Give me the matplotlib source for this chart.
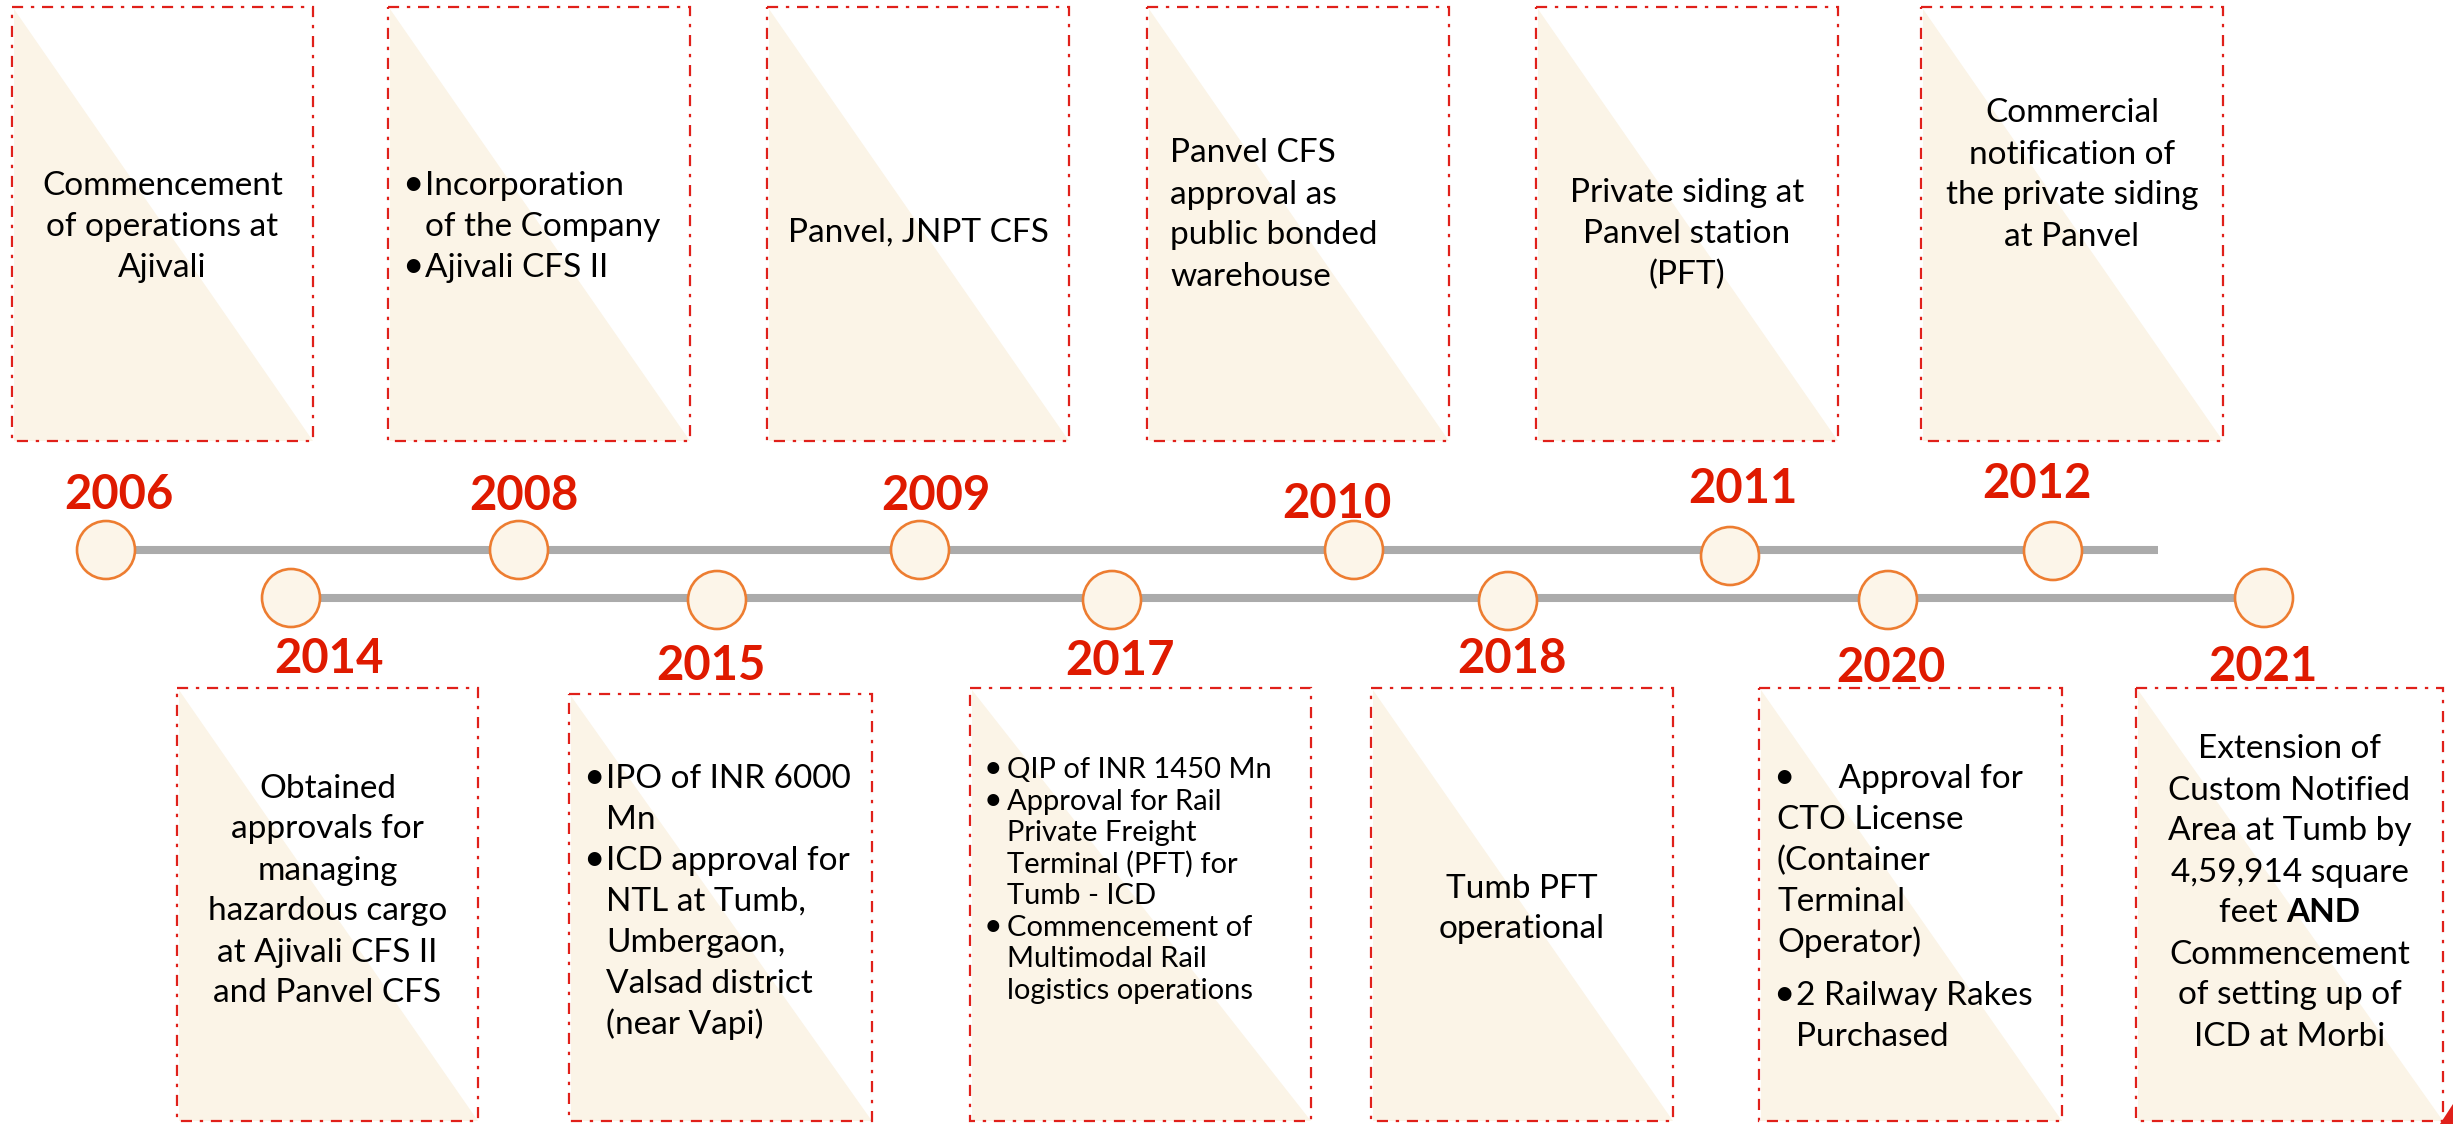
import matplotlib.pyplot as plt
from matplotlib.patches import Rectangle, Polygon, Ellipse

plt.rcParams['font.family'] = ['Lato', 'DejaVu Sans']

# milestones drawn on the upper line (boxes above)
top_years = ['2006', '2008', '2009', '2010', '2011', '2012']
top_texts = [
    ['Commencement', 'of operations at', 'Ajivali'],
    ['• Incorporation', '  of the Company', '• Ajivali CFS II'],
    ['Panvel, JNPT CFS'],
    ['Panvel CFS', 'approval as', 'public bonded', 'warehouse'],
    ['Private siding at', 'Panvel station', '(PFT)'],
    ['Commercial', 'notification of', 'the private siding', 'at Panvel'],
]

# milestones drawn on the lower line (boxes below)
bottom_years = ['2014', '2015', '2017', '2018', '2020', '2021']
bottom_texts = [
    ['Obtained', 'approvals for', 'managing', 'hazardous cargo',
     'at Ajivali CFS II', 'and Panvel CFS'],
    ['• IPO of INR 6000', '  Mn', '• ICD approval for', '  NTL at Tumb,',
     '  Umbergaon,', '  Valsad district', '  (near Vapi)'],
    ['• QIP of INR 1450 Mn', '• Approval for Rail', '  Private Freight',
     '  Terminal (PFT) for', '  Tumb - ICD', '• Commencement of',
     '  Multimodal Rail', '  logistics operations'],
    ['Tumb PFT', 'operational'],
    ['•      Approval for', 'CTO License', '(Container', 'Terminal',
     'Operator)', '• 2 Railway Rakes', '  Purchased'],
    ['Extension of', 'Custom Notified', 'Area at Tumb by', '4,59,914 square',
     'feet **AND**', 'Commencement', 'of setting up of', 'ICD at Morbi'],
]

# layout (pixels on a 2453 x 1124 canvas)
top_dot_x = [106, 519, 920, 1354, 1730, 2053]
top_dot_y = [550, 550, 550, 550, 556, 551]
top_lab_x = [119, 524, 936, 1337, 1743, 2037]
top_lab_base = [509, 510, 510, 518, 503, 498]
top_box_x = [(12, 313), (388, 690), (767, 1069), (1147, 1449), (1536, 1838), (1921, 2223)]
top_box_y = [(7, 441)] * 6
top_mode = ['center', 'bullet', 'center', 'left', 'center', 'center']
top_text_cy = [224, 224, 230, 212, 231, 172]
top_line_end = 2158

bot_dot_x = [291, 717, 1112, 1508, 1888, 2264]
bot_dot_y = [598, 600, 600, 601, 600, 598]
bot_lab_x = [329, 711, 1120, 1512, 1891, 2263]
bot_lab_base = [673, 680, 675, 673, 682, 681]
bot_box_x = [(177, 478), (569, 872), (970, 1311), (1371, 1673), (1759, 2062), (2136, 2443)]
bot_box_y = [(688, 1121), (694, 1121), (688, 1121), (688, 1121), (688, 1121), (688, 1121)]
bot_mode = ['center', 'bullet', 'bullet', 'center', 'bullet', 'center']
bot_text_cy = [888, 899, 878, 906, 905, 890]
bot_fs = [24, 24, 21, 24, 24, 24]
bot_step = [41, 41, 31.5, 41, 41, 41]
bot_gap = [0, 0, 0, 0, 12, 0]

RED = '#DF1A00'
BOX_RED = '#E0201A'
ORANGE = '#ED7D31'
CREAM = '#FCF5E9'
GREY = '#ABABAB'

fig = plt.figure(figsize=(24.53, 11.24), dpi=100)
ax = fig.add_axes([0, 0, 1, 1])
ax.set_xlim(0, 2453)
ax.set_ylim(1124, 0)
ax.axis('off')
renderer = fig.canvas.get_renderer()


def draw_box(x0, x1, y0, y1):
    ax.add_patch(Polygon([(x0 + 2, y0 + 2), (x0 + 2, y1), (x1, y1)],
                         closed=True, facecolor='#FBF4E7', edgecolor='none', zorder=1))
    ax.add_patch(Rectangle((x0, y0), x1 - x0, y1 - y0, fill=False, edgecolor=BOX_RED,
                           lw=1.6, linestyle=(0, (5, 3.5, 1.5, 3.5)), zorder=2))


def draw_lines(lines, mode, x0, x1, cy, fs=24, step=41, gap=0):
    px = fs * 100 / 72
    ys = []
    y = 0
    for i, ln in enumerate(lines):
        if i > 0:
            y += step
            if ln.startswith('•') and gap:
                y += gap
        ys.append(y)
    off = cy - (ys[0] + ys[-1]) / 2
    cx = (x0 + x1) / 2
    for ln, y in zip(lines, ys):
        base = y + off + 0.36 * px
        if mode == 'center':
            if '**' in ln:
                a, b = ln.split('**')[0], ln.split('**')[1]
                ta = ax.text(0, base, a, fontsize=fs, color='black', va='baseline', ha='left')
                tb = ax.text(0, base, b, fontsize=fs, color='black', va='baseline',
                             ha='left', fontweight='bold')
                wa = ta.get_window_extent(renderer).width
                wb = tb.get_window_extent(renderer).width
                start = cx - (wa + wb) / 2
                ta.set_x(start)
                tb.set_x(start + wa)
            else:
                ax.text(cx, base, ln, fontsize=fs, color='black', va='baseline', ha='center')
        else:
            if ln.startswith('•'):
                ax.text(x0 + 14, base, '•', fontsize=fs * 1.1, color='black',
                        va='baseline', ha='left')
                ax.text(x0 + 37, base, ln[2:], fontsize=fs, color='black',
                        va='baseline', ha='left')
            elif ln.startswith('  '):
                ax.text(x0 + 37, base, ln[2:], fontsize=fs, color='black',
                        va='baseline', ha='left')
            else:
                ax.text(x0 + (23 if mode == 'left' else 18), base, ln, fontsize=fs,
                        color='black', va='baseline', ha='left')


# timeline bars
ax.plot([top_dot_x[0], top_line_end], [top_dot_y[0], top_dot_y[0]], color=GREY,
        lw=5.8, solid_capstyle='butt', zorder=3)
ax.plot([bot_dot_x[0], bot_dot_x[-1]], [bot_dot_y[0], bot_dot_y[0]], color=GREY,
        lw=5.8, solid_capstyle='butt', zorder=3)

for i, yr in enumerate(top_years):
    x0, x1 = top_box_x[i]
    y0, y1 = top_box_y[i]
    draw_box(x0, x1, y0, y1)
    draw_lines(top_texts[i], top_mode[i], x0, x1, top_text_cy[i])
    ax.add_patch(Ellipse((top_dot_x[i], top_dot_y[i]), 58, 58, facecolor=CREAM,
                         edgecolor=ORANGE, lw=1.9, zorder=4))
    ax.text(top_lab_x[i], top_lab_base[i], yr, fontsize=34, fontweight='bold',
            color=RED, ha='center', va='baseline')

for i, yr in enumerate(bottom_years):
    x0, x1 = bot_box_x[i]
    y0, y1 = bot_box_y[i]
    draw_box(x0, x1, y0, y1)
    draw_lines(bottom_texts[i], bot_mode[i], x0, x1, bot_text_cy[i],
               fs=bot_fs[i], step=bot_step[i], gap=bot_gap[i])
    ax.add_patch(Ellipse((bot_dot_x[i], bot_dot_y[i]), 58, 58, facecolor=CREAM,
                         edgecolor=ORANGE, lw=1.9, zorder=4))
    ax.text(bot_lab_x[i], bot_lab_base[i], yr, fontsize=34, fontweight='bold',
            color=RED, ha='center', va='baseline')

# small red corner mark
ax.add_patch(Polygon([(2440, 1124), (2453, 1104), (2453, 1124)], closed=True,
                     facecolor=BOX_RED, edgecolor='none', zorder=5))

fig.savefig('out.png', dpi=100)
